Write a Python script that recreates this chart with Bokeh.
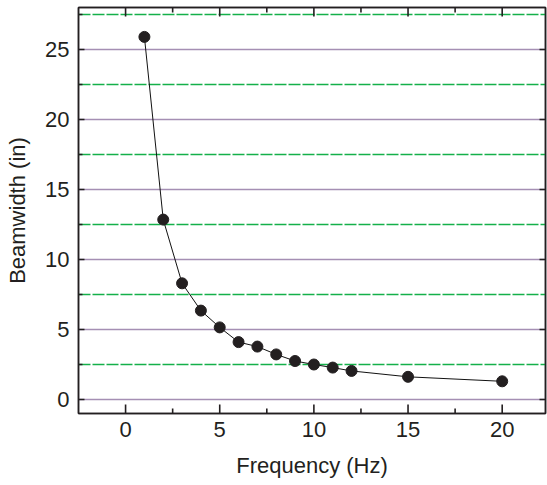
from bokeh.plotting import figure
from bokeh.models import Range1d, LinearAxis, FixedTicker
from bokeh.embed import file_html
from bokeh.resources import INLINE

freq = [1, 2, 3, 4, 5, 6, 7, 8, 9, 10, 11, 12, 15, 20]
beamwidth = [25.9, 12.85, 8.3, 6.35, 5.15, 4.1, 3.78, 3.22, 2.75, 2.5, 2.28, 2.04, 1.62, 1.3]
x_ticks = [0, 5, 10, 15, 20]
x_minor = [-2.5, 2.5, 7.5, 12.5, 17.5, 22.5]
y_ticks = [0, 5, 10, 15, 20, 25]
y_minor = [2.5, 7.5, 12.5, 17.5, 22.5, 27.5]

TXT = "#231f20"
FONT = "Liberation Sans"
X0, X1, Y0, Y1 = -2.5, 22.3, -1, 28
PX_X = (X1 - X0) / 468.0   # data units per pixel
PX_Y = (Y1 - Y0) / 406.0

p = figure(width=547, height=485, output_backend="svg", toolbar_location=None,
           x_range=Range1d(X0, X1), y_range=Range1d(Y0, Y1),
           min_border_left=78, min_border_right=2, min_border_top=7, min_border_bottom=72)
p.outline_line_color = TXT
p.outline_line_width = 1.5
p.background_fill_color = "white"
p.border_fill_color = "white"

p.xgrid.grid_line_color = None
p.ygrid.ticker = FixedTicker(ticks=y_ticks, minor_ticks=y_minor)
p.ygrid.grid_line_color = "#a58fb4"
p.ygrid.grid_line_width = 1.3
p.ygrid.minor_grid_line_color = "#14b04a"
p.ygrid.minor_grid_line_width = 1.3
p.ygrid.minor_grid_line_dash = "12 2"

def style_axis(ax, label):
    ax.axis_label = label
    ax.axis_label_text_font = FONT
    ax.axis_label_text_font_size = "22px"
    ax.axis_label_text_font_style = "normal"
    ax.axis_label_text_color = TXT
    ax.major_label_text_font = FONT
    ax.major_label_text_font_size = "22px"
    ax.major_label_text_color = TXT
    ax.axis_line_color = TXT
    ax.axis_line_width = 1.5
    ax.major_tick_in = 0
    ax.major_tick_out = 0
    ax.minor_tick_in = 0
    ax.minor_tick_out = 0

xt = FixedTicker(ticks=x_ticks, minor_ticks=x_minor)
yt = FixedTicker(ticks=y_ticks, minor_ticks=y_minor)

p.xaxis.ticker = xt
p.yaxis.ticker = yt
style_axis(p.xaxis[0], "Frequency (Hz)")
style_axis(p.yaxis[0], "Beamwidth (in)")
p.xaxis.major_label_standoff = 8
p.xaxis.axis_label_standoff = 13
p.yaxis.major_label_standoff = 9
p.yaxis.axis_label_standoff = 12

top = LinearAxis(ticker=xt)
style_axis(top, None)
top.major_label_text_font_size = "0px"
top.major_label_text_color = None
p.add_layout(top, "above")
right = LinearAxis(ticker=yt)
style_axis(right, None)
right.major_label_text_color = None
right.major_label_text_font_size = "0px"
p.add_layout(right, "right")

# inward tick marks drawn as short segments inside the frame
tk = dict(line_color=TXT, line_width=1.6)
xm = [v for v in x_minor if X0 < v < X1]
p.segment(x_ticks, [Y0] * 5, x_ticks, [Y0 + 9 * PX_Y] * 5, **tk)
p.segment(xm, [Y0] * len(xm), xm, [Y0 + 5 * PX_Y] * len(xm), **tk)
p.segment(x_ticks, [Y1] * 5, x_ticks, [Y1 - 9 * PX_Y] * 5, **tk)
p.segment(xm, [Y1] * len(xm), xm, [Y1 - 5 * PX_Y] * len(xm), **tk)
p.segment([X0] * 6, y_ticks, [X0 + 6 * PX_X] * 6, y_ticks, **tk)
p.segment([X0] * 6, y_minor, [X0 + 4 * PX_X] * 6, y_minor, **tk)
p.segment([X1] * 6, y_ticks, [X1 - 6 * PX_X] * 6, y_ticks, **tk)

p.line(freq, beamwidth, line_color="#111111", line_width=1)
p.scatter(freq, beamwidth, size=11, fill_color=TXT, line_color=TXT)

open("out.html", "w").write(file_html(p, INLINE))
